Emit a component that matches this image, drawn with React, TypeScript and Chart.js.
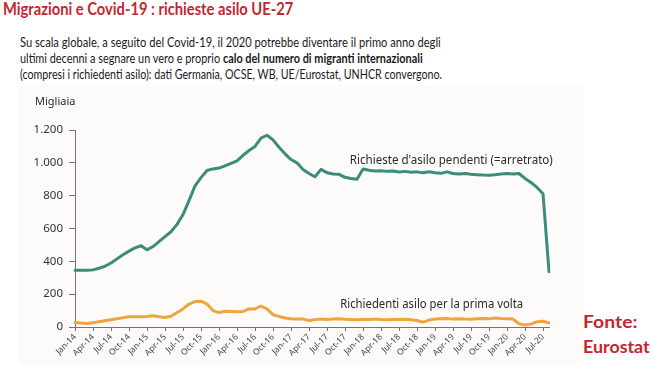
import React, { useEffect, useLayoutEffect, useRef, useState } from 'react';
import { Chart, registerables } from 'chart.js';

Chart.register(...registerables);

// ---------- DATA ----------
const MONTHS = ['Jan', 'Feb', 'Mar', 'Apr', 'May', 'Jun', 'Jul', 'Aug', 'Sep', 'Oct', 'Nov', 'Dec'];
const YEARS = ['14', '15', '16', '17', '18', '19', '20'];
const MONTHS_IN_LAST_YEAR = 8; // Jan-20 .. Aug-20

const categories: string[] = YEARS.flatMap((yr, i) =>
  MONTHS.slice(0, i === YEARS.length - 1 ? MONTHS_IN_LAST_YEAR : 12).map((m) => `${m}-${yr}`)
);

// Richieste d'asilo pendenti (migliaia), Jan-14 .. Aug-20
const pending: number[] = [
  345, 345, 345, 348, 358, 370, 390, 415, 440, 462, 482, 495, // 2014
  470, 490, 520, 550, 580, 625, 685, 770, 860, 910, 953, 963, // 2015
  968, 982, 997, 1012, 1045, 1075, 1100, 1150, 1168, 1140, 1095, 1055, // 2016
  1020, 1000, 960, 935, 915, 960, 940, 932, 930, 912, 905, 900, // 2017
  962, 955, 950, 952, 948, 950, 944, 948, 942, 945, 940, 946, // 2018
  940, 936, 945, 935, 932, 935, 930, 928, 926, 925, 928, 932, // 2019
  935, 932, 935, 905, 880, 850, 812, 337, // 2020
];

// Richiedenti asilo per la prima volta (migliaia), Jan-14 .. Aug-20
const firstTime: number[] = [
  28, 24, 22, 26, 32, 38, 44, 50, 56, 62, 63, 62, // 2014
  64, 68, 62, 58, 66, 88, 110, 140, 155, 157, 140, 100, // 2015
  88, 96, 95, 93, 95, 110, 110, 128, 110, 75, 65, 55, // 2016
  50, 48, 48, 40, 45, 48, 46, 48, 50, 47, 45, 44, // 2017
  46, 45, 48, 45, 44, 46, 45, 47, 44, 40, 30, 42, // 2018
  48, 50, 52, 48, 50, 48, 47, 50, 52, 50, 55, 52, // 2019
  50, 48, 20, 12, 18, 32, 35, 25, // 2020
];

const yTicks: number[] = [0, 200, 400, 600, 800, 1000, 1200];
const quarterMonths: string[] = ['Jan', 'Apr', 'Jul', 'Oct'];

const TITLE = 'Migrazioni e Covid-19 : richieste asilo UE-27';
const SUB1 = 'Su scala globale, a seguito del Covid-19, il 2020 potrebbe diventare il primo anno degli';
const SUB2A = 'ultimi decenni a segnare un vero e proprio ';
const SUB2B = 'calo del numero di migranti internazionali';
const SUB3 = '(compresi i richiedenti asilo): dati Germania, OCSE, WB, UE/Eurostat, UNHCR convergono.';
const PENDING_LABEL = "Richieste d'asilo pendenti (=arretrato)";
const FIRST_LABEL = 'Richiedenti asilo per la prima volta';
const UNIT_LABEL = 'Migliaia';
const SOURCE1 = 'Fonte:';
const SOURCE2 = 'Eurostat';

// ---------- helpers ----------
const fmt = (v: number) =>
  v >= 1000 ? `${Math.floor(v / 1000)}.${String(v % 1000).padStart(3, '0')}` : String(v);

function FitText({
  width,
  left,
  top,
  style,
  children,
}: {
  width: number;
  left: number;
  top: number;
  style: React.CSSProperties;
  children: React.ReactNode;
}) {
  const ref = useRef<HTMLSpanElement>(null);
  const [sx, setSx] = useState(1);
  useLayoutEffect(() => {
    const measure = () => {
      if (ref.current) {
        const w = ref.current.offsetWidth;
        if (w > 0) setSx(width / w);
      }
    };
    measure();
    if ((document as any).fonts && (document as any).fonts.ready) {
      (document as any).fonts.ready.then(measure);
    }
  }, [width]);
  return (
    <span
      ref={ref}
      style={{
        position: 'absolute',
        left,
        top,
        display: 'inline-block',
        whiteSpace: 'nowrap',
        transformOrigin: '0 0',
        transform: `scaleX(${sx})`,
        ...style,
      }}
    >
      {children}
    </span>
  );
}

const annotationPlugin = {
  id: 'lineLabels',
  afterDatasetsDraw(chart: any) {
    const { ctx, scales, chartArea } = chart;
    const x = scales.x;
    const y = scales.y;
    ctx.save();
    ctx.fillStyle = '#2b2b2b';
    ctx.textAlign = 'left';
    ctx.textBaseline = 'alphabetic';
    ctx.font = '12px "Noto Sans", "Open Sans", sans-serif';
    ctx.fillText(PENDING_LABEL, x.getPixelForValue(45.8), y.getPixelForValue(993), 203);
    ctx.fillText(FIRST_LABEL, x.getPixelForValue(44.2), y.getPixelForValue(114), 183);
    ctx.font = '11px "Noto Sans", "Open Sans", sans-serif';
    ctx.textBaseline = 'middle';
    ctx.fillText(UNIT_LABEL, chartArea.left - 40, chartArea.top - 28, 41);
    ctx.restore();
  },
};

function LineChart() {
  const canvasRef = useRef<HTMLCanvasElement>(null);
  useEffect(() => {
    if (!canvasRef.current) return;
    const axisColor = '#7f7067';
    const chart = new Chart(canvasRef.current, {
      type: 'line',
      data: {
        labels: categories,
        datasets: [
          {
            label: PENDING_LABEL,
            data: pending,
            borderColor: '#3b8c7a',
            borderWidth: 3,
            pointRadius: 0,
            tension: 0,
            borderJoinStyle: 'round',
            borderCapStyle: 'round',
            fill: false,
          },
          {
            label: FIRST_LABEL,
            data: firstTime,
            borderColor: '#f1a43c',
            borderWidth: 3,
            pointRadius: 0,
            tension: 0,
            borderJoinStyle: 'round',
            borderCapStyle: 'round',
            fill: false,
          },
        ],
      },
      options: {
        animation: false,
        responsive: false,
        maintainAspectRatio: false,
        layout: { padding: { top: 44, right: 34, left: 0, bottom: 0 } },
        plugins: {
          legend: { display: false },
          tooltip: { enabled: false },
        },
        scales: {
          x: {
            type: 'category',
            offset: false,
            grid: {
              drawOnChartArea: false,
              drawTicks: true,
              tickLength: 4,
              color: axisColor,
              lineWidth: 1,
            },
            border: { color: axisColor, width: 1 },
            ticks: {
              autoSkip: false,
              maxRotation: 45,
              minRotation: 45,
              padding: 1,
              color: '#444',
              font: { family: '"Noto Sans", "Open Sans", sans-serif', size: 8.5 },
              callback: (_v: any, i: number) =>
                quarterMonths.includes(categories[i].split('-')[0]) ? categories[i] : null,
            },
            afterFit: (s: any) => {
              s.height = 38;
            },
          },
          y: {
            min: yTicks[0],
            max: yTicks[yTicks.length - 1],
            afterBuildTicks: (s: any) => {
              s.ticks = yTicks.map((v) => ({ value: v }));
            },
            grid: {
              drawOnChartArea: false,
              drawTicks: true,
              tickLength: 6,
              color: axisColor,
              lineWidth: 1,
            },
            border: { color: axisColor, width: 1 },
            ticks: {
              padding: 6,
              color: '#333',
              font: { family: '"Noto Sans", "Open Sans", sans-serif', size: 11.5 },
              callback: (v: any) => fmt(Number(v)),
            },
            afterFit: (s: any) => {
              s.width = 57;
            },
          },
        },
      },
      plugins: [annotationPlugin],
    } as any);
    return () => chart.destroy();
  }, []);
  return <canvas ref={canvasRef} width={565} height={279} style={{ display: 'block' }} />;
}

export default function App() {
  const red = '#c4262d';
  const sub: React.CSSProperties = {
    fontFamily: 'Lato, "Open Sans", sans-serif',
    fontSize: 14,
    lineHeight: '16px',
    color: '#1a1a1a',
  };
  const src: React.CSSProperties = {
    fontFamily: 'Lato, "Open Sans", sans-serif',
    fontWeight: 700,
    fontSize: 16.5,
    lineHeight: '16px',
    color: red,
  };
  return (
    <div
      style={{
        position: 'fixed',
        left: 0,
        top: 0,
        width: 653,
        height: 365,
        background: '#ffffff',
        overflow: 'hidden',
      }}
    >
      <FitText
        width={290}
        left={3}
        top={1}
        style={{
          fontFamily: 'Lato, "Open Sans", sans-serif',
          fontWeight: 700,
          fontSize: 16.5,
          lineHeight: '16px',
          color: red,
        }}
      >
        {TITLE}
      </FitText>
      <FitText width={421} left={20} top={34} style={sub}>
        {SUB1}
      </FitText>
      <FitText width={403} left={20} top={50} style={sub}>
        {SUB2A}
        <b>{SUB2B}</b>
      </FitText>
      <FitText width={422} left={20} top={66} style={sub}>
        {SUB3}
      </FitText>
      <div
        style={{
          position: 'absolute',
          left: 18,
          top: 86,
          width: 565,
          height: 279,
          background: '#fdfbf9',
        }}
      >
        <LineChart />
      </div>
      <FitText width={54} left={583} top={314} style={src}>
        {SOURCE1}
      </FitText>
      <FitText width={67} left={583} top={339} style={src}>
        {SOURCE2}
      </FitText>
    </div>
  );
}
